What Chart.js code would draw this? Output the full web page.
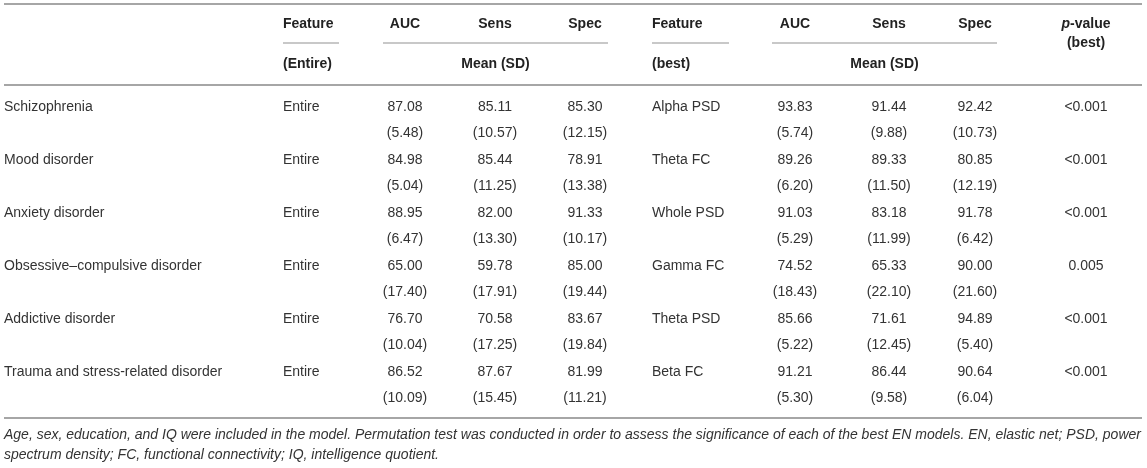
<!DOCTYPE html>
<html>
<head>
<meta charset="utf-8">
<script src="https://cdn.jsdelivr.net/npm/chart.js@4/dist/chart.umd.min.js"></script>
<style>
  html, body { margin: 0; padding: 0; background: #fff; }
</style>
</head>
<body>
<canvas id="chart" width="1147" height="468"></canvas>
<script>
// ---- table data ----
var disorders = ["Schizophrenia", "Mood disorder", "Anxiety disorder", "Obsessive–compulsive disorder", "Addictive disorder", "Trauma and stress-related disorder"];
var entireFeature = ["Entire", "Entire", "Entire", "Entire", "Entire", "Entire"];
var entireAUC = [87.08, 84.98, 88.95, 65.00, 76.70, 86.52];
var entireAUCsd = [5.48, 5.04, 6.47, 17.40, 10.04, 10.09];
var entireSens = [85.11, 85.44, 82.00, 59.78, 70.58, 87.67];
var entireSensSd = [10.57, 11.25, 13.30, 17.91, 17.25, 15.45];
var entireSpec = [85.30, 78.91, 91.33, 85.00, 83.67, 81.99];
var entireSpecSd = [12.15, 13.38, 10.17, 19.44, 19.84, 11.21];
var bestFeature = ["Alpha PSD", "Theta FC", "Whole PSD", "Gamma FC", "Theta PSD", "Beta FC"];
var bestAUC = [93.83, 89.26, 91.03, 74.52, 85.66, 91.21];
var bestAUCsd = [5.74, 6.20, 5.29, 18.43, 5.22, 5.30];
var bestSens = [91.44, 89.33, 83.18, 65.33, 71.61, 86.44];
var bestSensSd = [9.88, 11.50, 11.99, 22.10, 12.45, 9.58];
var bestSpec = [92.42, 80.85, 91.78, 90.00, 94.89, 90.64];
var bestSpecSd = [10.73, 12.19, 6.42, 21.60, 5.40, 6.04];
var pValues = ["<0.001", "<0.001", "<0.001", "0.005", "<0.001", "<0.001"];

var headerTop = ["Feature", "AUC", "Sens", "Spec", "Feature", "AUC", "Sens", "Spec"];
var headerSub = ["(Entire)", "Mean (SD)", "(best)", "Mean (SD)"];
var pHeader = ["p", "-value", "(best)"];
var footnote = [
  "Age, sex, education, and IQ were included in the model. Permutation test was conducted in order to assess the significance of each of the best EN models. EN, elastic net; PSD, power",
  "spectrum density; FC, functional connectivity; IQ, intelligence quotient."
];

// ---- layout (x in px, y in row units: one row = one text line of the body) ----
var ROW0 = 107, STEP = 26.5;
function rowUnits(px) { return (px - ROW0) / STEP; }
var colX = { name: 4, feat1: 283, auc1: 405, sens1: 495, spec1: 585, feat2: 652, auc2: 795, sens2: 889, spec2: 975, p: 1086 };
var TEXT = "#333";
var HEAD = "#222";
var FONT = "'Liberation Sans', Arial, sans-serif";

function fmt(v) { return v.toFixed(2); }
function sd(v) { return "(" + v.toFixed(2) + ")"; }

// one text dataset per column; body rows: value on row 2i, sd on row 2i+1
function textColumn(x, values, sds, align) {
  var pts = [], labels = [];
  values.forEach(function(v, i) {
    pts.push({ x: x, y: 2 * i });
    labels.push(typeof v === "number" ? fmt(v) : v);
    if (sds) {
      pts.push({ x: x, y: 2 * i + 1 });
      labels.push(sd(sds[i]));
    }
  });
  return { type: "scatter", data: pts, labels: labels, align: align, pointRadius: 0, font: "14px " + FONT, color: TEXT };
}

function headerText(x, y, text, align, font, color) {
  return { type: "scatter", data: [{ x: x, y: rowUnits(y) }], labels: [text], align: align, pointRadius: 0,
           font: font || ("bold 14px " + FONT), color: color || HEAD };
}

function rule(x1, x2, y, color, width) {
  return {
    type: "line",
    data: [{ x: x1, y: rowUnits(y) }, { x: x2, y: rowUnits(y) }],
    borderColor: color, borderWidth: width, pointRadius: 0, fill: false
  };
}

var datasets = [
  textColumn(colX.name, disorders, null, "left"),
  textColumn(colX.feat1, entireFeature, null, "left"),
  textColumn(colX.auc1, entireAUC, entireAUCsd, "center"),
  textColumn(colX.sens1, entireSens, entireSensSd, "center"),
  textColumn(colX.spec1, entireSpec, entireSpecSd, "center"),
  textColumn(colX.feat2, bestFeature, null, "left"),
  textColumn(colX.auc2, bestAUC, bestAUCsd, "center"),
  textColumn(colX.sens2, bestSens, bestSensSd, "center"),
  textColumn(colX.spec2, bestSpec, bestSpecSd, "center"),
  textColumn(colX.p, pValues, null, "center")
];
// the name / feature / p-value columns only sit on the value rows
[0, 1, 5, 9].forEach(function(k) {
  datasets[k].data = datasets[k].data.map(function(p, i) { return { x: p.x, y: 2 * i }; });
});

// headers
var topXs = [colX.feat1, colX.auc1, colX.sens1, colX.spec1, colX.feat2, colX.auc2, colX.sens2, colX.spec2];
headerTop.forEach(function(h, i) {
  datasets.push(headerText(topXs[i], 24, h, (i === 0 || i === 4) ? "left" : "center"));
});
datasets.push(headerText(colX.feat1, 64, headerSub[0], "left"));
datasets.push(headerText(495.5, 64, headerSub[1], "center"));
datasets.push(headerText(colX.feat2, 64, headerSub[2], "left"));
datasets.push(headerText(884.5, 64, headerSub[3], "center"));
datasets.push({ type: "scatter", data: [{ x: colX.p, y: rowUnits(24) }], labels: [pHeader], align: "pvalue", pointRadius: 0,
                font: "bold 14px " + FONT, color: HEAD });
datasets.push(headerText(colX.p, 43, pHeader[2], "center"));

// footnote
datasets.push(headerText(4, 435, footnote[0], "left", "italic 14px " + FONT, TEXT));
datasets.push(headerText(4, 455, footnote[1], "left", "italic 14px " + FONT, TEXT));

// rules
datasets.push(rule(4, 1142, 4, "#a6a6a6", 2));
datasets.push(rule(283, 339, 43, "#c8c8c8", 2));
datasets.push(rule(383, 608, 43, "#c8c8c8", 2));
datasets.push(rule(652, 729, 43, "#c8c8c8", 2));
datasets.push(rule(772, 997, 43, "#c8c8c8", 2));
datasets.push(rule(4, 1142, 85, "#a6a6a6", 2));
datasets.push(rule(4, 1142, 418, "#a6a6a6", 2));

// draws each scatter dataset's labels at its points
var textPlugin = {
  id: "cellText",
  afterDatasetsDraw: function(chart) {
    var ctx = chart.ctx;
    chart.data.datasets.forEach(function(ds, di) {
      if (!ds.labels) return;
      var meta = chart.getDatasetMeta(di);
      ctx.save();
      ctx.fillStyle = ds.color;
      ctx.font = ds.font;
      ctx.textBaseline = "middle";
      meta.data.forEach(function(el, i) {
        var label = ds.labels[i];
        if (ds.align === "pvalue") {
          // italic "p" + bold "-value"
          var pf = "bold italic 14px " + FONT;
          ctx.font = pf;
          var w1 = ctx.measureText(label[0]).width;
          ctx.font = ds.font;
          var w2 = ctx.measureText(label[1]).width;
          var x0 = el.x - (w1 + w2) / 2;
          ctx.textAlign = "left";
          ctx.font = pf;
          ctx.fillText(label[0], x0, el.y);
          ctx.font = ds.font;
          ctx.fillText(label[1], x0 + w1, el.y);
          return;
        }
        ctx.textAlign = ds.align;
        ctx.fillText(label, el.x, el.y);
      });
      ctx.restore();
    });
  }
};

var ctx = document.getElementById("chart").getContext("2d");
window.myChart = new Chart(ctx, {
  type: "scatter",
  data: { datasets: datasets },
  options: {
    responsive: false,
    animation: false,
    events: [],
    layout: { padding: 0 },
    plugins: { legend: { display: false }, tooltip: { enabled: false } },
    scales: {
      x: { type: "linear", display: false, min: 0, max: 1147 },
      y: { type: "linear", display: false, reverse: true, min: rowUnits(0), max: rowUnits(468) }
    }
  },
  plugins: [textPlugin]
});
</script>
</body>
</html>
